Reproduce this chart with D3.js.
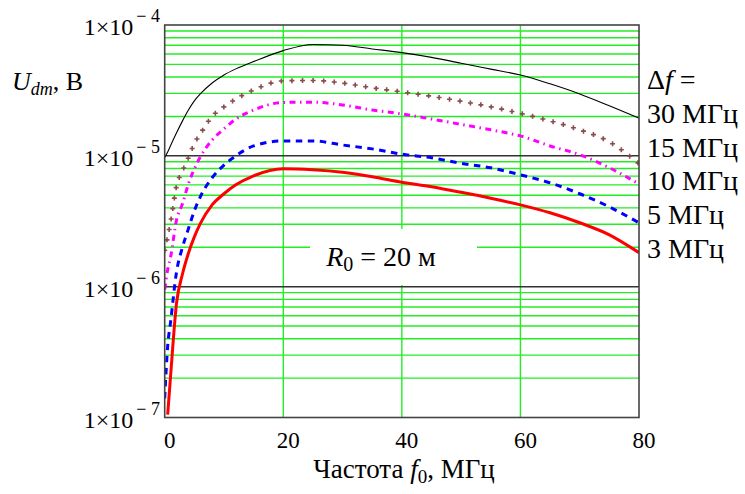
<!DOCTYPE html>
<html>
<head>
<meta charset="utf-8">
<script src="https://cdn.jsdelivr.net/npm/d3@7"></script>
<style>
  body { margin: 0; background: #fff; }
</style>
</head>
<body>
<div id="chart"></div>
<script>
// frequency grid, MHz
var freq = [0, 0.5, 1, 2, 3, 4, 5, 6, 8, 10, 12, 15, 20, 25, 30, 35, 40, 45, 50, 55, 60, 65, 70, 75, 80];

// U_dm, V  for each bandwidth
var u30 = [9.7e-6, 1.07e-5, 1.2e-5, 1.5e-5, 1.85e-5, 2.24e-5, 2.63e-5, 2.97e-5, 3.6e-5, 4.15e-5, 4.62e-5, 5.25e-5,
           6.37e-5, 7.1e-5, 7.0e-5, 6.56e-5, 6.15e-5, 5.66e-5, 5.1e-5, 4.6e-5, 4.15e-5, 3.55e-5, 2.97e-5, 2.41e-5, 1.94e-5];
var u15 = [1.9e-6, 2.41e-6, 3.13e-6, 5.9e-6, 7.67e-6, 9.66e-6, 1.24e-5, 1.47e-5, 2.0e-5, 2.37e-5, 2.72e-5, 3.19e-5,
           3.74e-5, 3.77e-5, 3.6e-5, 3.31e-5, 3.08e-5, 2.85e-5, 2.61e-5, 2.37e-5, 2.11e-5, 1.85e-5, 1.58e-5, 1.28e-5, 8.7e-6];
var u10 = [9.5e-7, 1.35e-6, 1.69e-6, 3.24e-6, 4.3e-6, 6.1e-6, 7.94e-6, 9.8e-6, 1.32e-5, 1.61e-5, 1.91e-5, 2.24e-5,
           2.56e-5, 2.57e-5, 2.45e-5, 2.24e-5, 2.09e-5, 1.91e-5, 1.74e-5, 1.58e-5, 1.42e-5, 1.19e-5, 1.02e-5, 8.1e-6, 6.1e-6];
var u5  = [1.4e-7, 3.5e-7, 5.4e-7, 1.3e-6, 2.0e-6, 2.77e-6, 3.8e-6, 4.86e-6, 6.8e-6, 8.5e-6, 1.0e-5, 1.19e-5,
           1.30e-5, 1.30e-5, 1.21e-5, 1.13e-5, 1.03e-5, 9.66e-6, 8.77e-6, 8.1e-6, 7.16e-6, 6.22e-6, 5.13e-6, 4.07e-6, 3.08e-6];
var u3  = [null, 1.05e-7, 2.1e-7, 7.5e-7, 1.25e-6, 1.8e-6, 2.4e-6, 3.03e-6, 4.22e-6, 5.13e-6, 6.0e-6, 7.03e-6,
           7.96e-6, 7.82e-6, 7.48e-6, 6.92e-6, 6.28e-6, 5.8e-6, 5.26e-6, 4.74e-6, 4.22e-6, 3.67e-6, 3.08e-6, 2.49e-6, 1.82e-6];

var xTicks = [0, 20, 40, 60, 80];
var yDecades = [-7, -6, -5, -4];
var legendLabels = ["30 МГц", "15 МГц", "10 МГц", "5 МГц", "3 МГц"];

var w = 745, h = 494;
var pL = 164.7, pR = 639, pT = 25, pB = 417.5;
var serif = "'Liberation Serif', 'DejaVu Serif', 'Times New Roman', serif";

var svg = d3.select("#chart").append("svg")
  .attr("width", w)
  .attr("height", h)
  .attr("font-family", serif);

var x = d3.scaleLinear().domain([0, 80]).range([pL, pR]);
var y = d3.scaleLog().domain([1e-7, 1e-4]).range([pB, pT]);

var isDecade = function(v) {
  var l = Math.log10(v);
  return Math.abs(l - Math.round(l)) < 1e-9;
};

// green grid
svg.append("g").selectAll("line")
  .data(y.ticks().filter(function(v) { return !isDecade(v); }))
  .enter().append("line")
  .attr("x1", pL).attr("x2", pR)
  .attr("y1", function(d) { return y(d); })
  .attr("y2", function(d) { return y(d); })
  .attr("stroke", "#22ee22").attr("stroke-width", 1.4);

svg.append("g").selectAll("line")
  .data(xTicks.filter(function(d) { return d > 0 && d < 80; }))
  .enter().append("line")
  .attr("x1", function(d) { return x(d); })
  .attr("x2", function(d) { return x(d); })
  .attr("y1", pT).attr("y2", pB)
  .attr("stroke", "#22ee22").attr("stroke-width", 1.4);

// decade lines
svg.append("g").selectAll("line")
  .data([1e-6, 1e-5])
  .enter().append("line")
  .attr("x1", pL).attr("x2", pR)
  .attr("y1", function(d) { return y(d); })
  .attr("y2", function(d) { return y(d); })
  .attr("stroke", "#333").attr("stroke-width", 1.5);

// white box under the R0 label
svg.append("rect")
  .attr("x", 310).attr("y", 229).attr("width", 167).attr("height", 56)
  .attr("fill", "#fff");

svg.append("clipPath").attr("id", "clip")
  .append("rect")
  .attr("x", pL).attr("y", pT)
  .attr("width", pR - pL).attr("height", pB - pT);

var plot = svg.append("g").attr("clip-path", "url(#clip)");

var line = d3.line()
  .defined(function(d) { return d[1] != null; })
  .x(function(d) { return x(d[0]); })
  .y(function(d) { return y(d[1]); })
  .curve(d3.curveMonotoneX);

function pts(vals) {
  return freq.map(function(f, i) { return [f, vals[i]]; });
}

plot.append("path")
  .attr("d", line(pts(u30)))
  .attr("fill", "none").attr("stroke", "#000").attr("stroke-width", 1.1);

// 15 MHz : "+" marks along the curve
var brown = plot.append("path")
  .attr("d", line(pts(u15)))
  .attr("fill", "none").attr("stroke", "none");
var node = brown.node(), len = node.getTotalLength();
var marks = d3.range(0, len, 10.6).map(function(l) { return node.getPointAtLength(l); });
plot.append("g").selectAll("path")
  .data(marks)
  .enter().append("path")
  .attr("d", function(p) { return "M" + (p.x - 2.5) + "," + p.y + "h5M" + p.x + "," + (p.y - 2.5) + "v5"; })
  .attr("stroke", "#8b4c4c").attr("stroke-width", 1.6);

plot.append("path")
  .attr("d", line(pts(u10)))
  .attr("fill", "none").attr("stroke", "#ff00ff").attr("stroke-width", 3)
  .attr("stroke-dasharray", "6,4.5,1.5,4.5");

plot.append("path")
  .attr("d", line(pts(u5)))
  .attr("fill", "none").attr("stroke", "#0000ff").attr("stroke-width", 3)
  .attr("stroke-dasharray", "6.5,5.5");

plot.append("path")
  .attr("d", line(pts(u3)))
  .attr("fill", "none").attr("stroke", "#ff0000").attr("stroke-width", 3);

// frame
svg.append("rect")
  .attr("x", pL).attr("y", pT)
  .attr("width", pR - pL).attr("height", pB - pT)
  .attr("fill", "none").attr("stroke", "#444").attr("stroke-width", 1.6);

// x tick labels
svg.append("g").selectAll("text")
  .data(xTicks)
  .enter().append("text")
  .attr("x", function(d) { return x(d) + 5; })
  .attr("y", 448)
  .attr("text-anchor", "middle")
  .attr("font-size", 23)
  .text(function(d) { return d; });

// y tick labels
var yl = svg.append("g").selectAll("text")
  .data(yDecades)
  .enter().append("text")
  .attr("x", 160)
  .attr("y", function(d) { return y(Math.pow(10, d)) + 10; })
  .attr("text-anchor", "end")
  .attr("font-size", 24);
yl.append("tspan").text("1×10");
yl.append("tspan").attr("dx", 3).attr("dy", -13).attr("font-size", 18)
  .text(function(d) { return "− " + (-d); });

// axis titles
var yt = svg.append("text").attr("x", 12).attr("y", 90).attr("font-size", 26);
yt.append("tspan").attr("font-style", "italic").text("U");
yt.append("tspan").attr("font-style", "italic").attr("font-size", 18).attr("dy", 5).text("dm");
yt.append("tspan").attr("dy", -5).text(", B");

var xt = svg.append("text").attr("x", 404).attr("y", 478)
  .attr("text-anchor", "middle").attr("font-size", 27);
xt.append("tspan").text("Частота ");
xt.append("tspan").attr("font-style", "italic").text("f");
xt.append("tspan").attr("font-size", 19).attr("dy", 5).text("0");
xt.append("tspan").attr("dy", -5).text(", МГц");

// R0 label
var rl = svg.append("text").attr("x", 381).attr("y", 266)
  .attr("text-anchor", "middle").attr("font-size", 28);
rl.append("tspan").attr("font-style", "italic").text("R");
rl.append("tspan").attr("font-size", 20).attr("dy", 5).text("0");
rl.append("tspan").attr("dy", -5).text(" = 20 м");

// legend
var lg = svg.append("text").attr("x", 647).attr("y", 89).attr("font-size", 28);
lg.append("tspan").text("Δ");
lg.append("tspan").attr("font-style", "italic").text("f");
lg.append("tspan").text(" =");

svg.append("g").selectAll("text")
  .data(legendLabels)
  .enter().append("text")
  .attr("x", 647)
  .attr("y", function(d, i) { return 123 + i * 33.7; })
  .attr("font-size", 28)
  .text(function(d) { return d; });
</script>
</body>
</html>
